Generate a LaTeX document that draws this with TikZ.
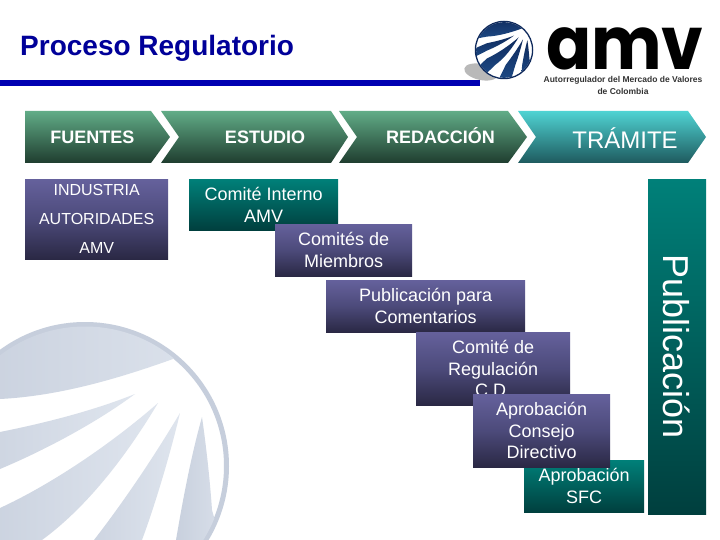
\documentclass[tikz,border=0pt]{standalone}
\usepackage{fontspec}
\setmainfont{Liberation Sans}
\newfontfamily\logofont{Poppins}
\definecolor{wm}{HTML}{C6CEDC}
\definecolor{wml}{HTML}{DFE5EE}
\definecolor{navyA}{HTML}{0F2A5C}
\definecolor{navyB}{HTML}{1E4A85}
\definecolor{purpA}{HTML}{65619C}
\definecolor{purpM}{HTML}{4C4A7A}
\definecolor{purpB}{HTML}{2A2844}
\definecolor{tealA}{HTML}{008079}
\definecolor{tealB}{HTML}{003F3E}
\definecolor{greenA}{HTML}{61AC87}
\definecolor{greenB}{HTML}{1F3D2F}
\definecolor{cyanA}{HTML}{4FD3D3}
\definecolor{cyanB}{HTML}{1E5A5E}
\tikzset{
  fs/.style={font=\fontsize{18}{21.5}\selectfont},
  boxbase/.style={anchor=north west,inner sep=0pt,align=center,text=white,fs},
  purple box/.style={boxbase,top color=purpA,bottom color=purpB,middle color=purpM},
  teal box/.style={boxbase,top color=tealA,bottom color=tealB},
  chev/.style={top color=greenA,bottom color=greenB},
  chevlast/.style={top color=cyanA,bottom color=cyanB},
  chevtext/.style={text=white,inner sep=0pt,font=\fontsize{18}{21}\selectfont\bfseries},
  wmshade/.style={left color=wm,right color=wml},
  logoshade/.style={top color=navyA,bottom color=navyB},
}
% the globe's dark bands, in the watermark's coordinates
\newcommand{\globebands}[1]{%
\shade[#1] (-70,412) -- (0,399) .. controls (60,396) and (120,378) .. (173,359) -- (240,300) -- (-70,300) -- cycle;
\shade[#1] (135,394) .. controls (90,412) and (40,424) .. (0,432) -- (-70,462) -- (-70,505) -- (0,469) .. controls (50,448) and (100,420) .. cycle;
\shade[#1] (158,403) .. controls (110,445) and (50,485) .. (0,508) -- (-50,555) -- (-10,590) -- (42,540) .. controls (90,505) and (130,450) .. cycle;
\shade[#1] (180,413) .. controls (155,455) and (125,500) .. (94,540) -- (60,610) -- (120,615) -- (142,540) .. controls (155,505) and (170,455) .. cycle;
\shade[#1] (202,417) .. controls (190,460) and (182,505) .. (176,540) -- (170,610) -- (240,610) -- (212,510) .. controls (210,480) and (206,445) .. cycle;
}
\begin{document}
\begin{tikzpicture}[x=1pt,y=-1pt]
\useasboundingbox (0,0) rectangle (720,540);
\fill[white] (0,0) rectangle (720,540);
% watermark
\begin{scope}
\clip (0,0) rectangle (720,540);
\draw[wm,line width=5pt] (85,466) circle (141.5);
\begin{scope}
\clip (85,466) circle (139.5);
\globebands{wmshade}
\end{scope}
\end{scope}
% title
\node[anchor=base west,inner sep=0pt,text=blue!60!black,font=\fontsize{28}{31}\selectfont\bfseries] (title) at (20,55.5) {Proceso Regulatorio};
% logo
\fill[gray!55,rotate around={-12:(481,72)}] (481,72) ellipse (17 and 8);
\fill[blue!70!black] (0,80) rectangle (480,86);
\fill[white] (504,50) circle (29);
\begin{scope}[shift={(504,50)},scale=0.2,shift={(-85,-466)}]
\clip (85,466) circle (139.5);
\globebands{logoshade}
\end{scope}
\draw[navyA,line width=1.3pt] (504,50) circle (28.6);
\node[anchor=base west,inner sep=0pt,font=\logofont\bfseries] (amv) at (546,70) {\fontsize{74}{74}\selectfont\scalebox{0.9}[1]{amv}};
\node[inner sep=0pt,align=center,font=\fontsize{8.5}{11.5}\selectfont\bfseries,text=black!80] (sub) at (623,85.5) {Autorregulador del Mercado de Valores\\de Colombia};
% chevrons
\shade[chev] (25,111) -- (151,111) -- (170,137) -- (151,163) -- (25,163) -- cycle;
\shade[chev] (161,111) -- (331,111) -- (348,137) -- (331,163) -- (161,163) -- (179,137) -- cycle;
\shade[chev] (339,111) -- (508,111) -- (527,137) -- (508,163) -- (339,163) -- (357,137) -- cycle;
\shade[chevlast] (518,111) -- (688,111) -- (706,137) -- (688,163) -- (518,163) -- (536,137) -- cycle;
\node[chevtext] (f) at (92.5,137) {FUENTES};
\node[chevtext] (e) at (265,137) {ESTUDIO};
\node[chevtext] (r) at (440.5,136) {REDACCIÓN};
\node[text=white,inner sep=0pt,font=\fontsize{24}{28}\selectfont] (t) at (625,138) {TRÁMITE};
% boxes
\node[purple box,minimum width=143pt,minimum height=80pt,font=\fontsize{16}{29}\selectfont] (src) at (25,179) {INDUSTRIA\\AUTORIDADES\\AMV};
\node[teal box,minimum width=149pt,minimum height=51pt] (ci) at (189,179) {Comité Interno\\AMV};
\node[purple box,minimum width=137pt,minimum height=52pt] (cm) at (275,224) {Comités de\\Miembros};
\node[purple box,minimum width=199pt,minimum height=52pt] (pc) at (326,280) {Publicación para\\Comentarios};
\node[purple box,minimum width=154pt,minimum height=73pt] (cr) at (416,332) {Comité de\\Regulación\\C.D.};
\node[teal box,minimum width=120pt,minimum height=52pt] (as) at (524,460) {Aprobación\\SFC};
\node[purple box,minimum width=137pt,minimum height=73pt] (ac) at (473,394) {Aprobación\\Consejo\\Directivo};
\node[teal box,minimum width=58pt,minimum height=335pt] (pub) at (648,179) {};
\node[rotate=-90,text=white,inner sep=0pt,font=\fontsize{36}{40}\selectfont] (publ) at (677,347) {Publicación};
\end{tikzpicture}
\end{document}
